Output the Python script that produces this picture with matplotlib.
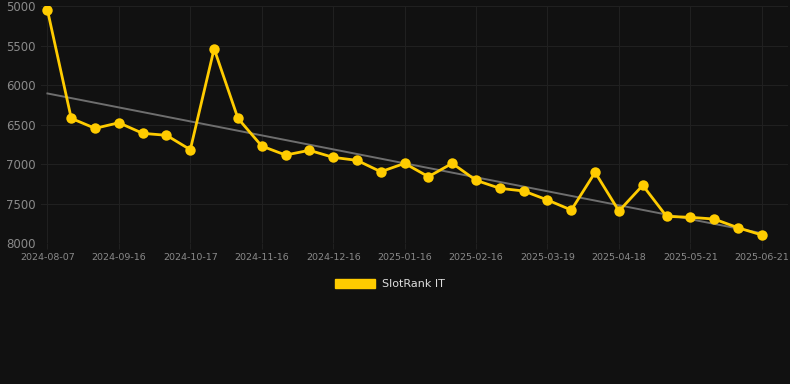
import numpy as np
import matplotlib.pyplot as plt
from matplotlib.patches import Patch

# weekly rank readings, one every 3rd point gets a date label
ranks = [5047, 6418, 6545, 6474, 6608, 6633, 6815, 5537, 6418, 6769,
         6883, 6823, 6912, 6950, 7094, 6988, 7157, 6988, 7203, 7304,
         7338, 7452, 7579, 7102, 7592, 7266, 7659, 7671, 7693, 7803,
         7895]
tick_labels = ["2024-08-07", "2024-09-16", "2024-10-17", "2024-11-16",
               "2024-12-16", "2025-01-16", "2025-02-16", "2025-03-19",
               "2025-04-18", "2025-05-21", "2025-06-21"]
series_name = "SlotRank IT"

bg = "#111111"
gold = "#ffcc00"

x = np.arange(len(ranks))
y = np.array(ranks)

fig = plt.figure(figsize=(7.9, 3.84), dpi=100, facecolor=bg)
ax = fig.add_axes([41 / 790, 1 - 243.3 / 384, 747 / 790, 237 / 384])
ax.set_facecolor(bg)

# linear trend over the series
k, b = np.polyfit(x, y, 1)
ax.plot(x, k * x + b, color="#6e6e6e", lw=1.4, zorder=2)

ax.plot(x, y, color=gold, lw=2.0, marker="o", markersize=7.5,
        markeredgewidth=0, zorder=3)

ax.set_xlim(-0.27, 31.1)
ax.set_ylim(8000, 5000)
ax.set_yticks([5000, 5500, 6000, 6500, 7000, 7500, 8000])
ax.set_xticks(x[::3])
ax.set_xticklabels(tick_labels)

ax.grid(True, color="#202020", lw=0.8)
ax.set_axisbelow(True)
for s in ax.spines.values():
    s.set_visible(False)
ax.tick_params(axis="y", length=0, pad=4, labelsize=8.5, labelcolor="#8a8a8a")
ax.tick_params(axis="x", length=4, color="#202020", pad=3, labelsize=6.8,
               labelcolor="#8a8a8a")

handle = Patch(facecolor=gold, edgecolor=gold)
fig.legend([handle], [series_name], loc="center", bbox_to_anchor=(390 / 790, 1 - 284 / 384),
           frameon=False, handlelength=3.6, handleheight=0.9, fontsize=8,
           labelcolor="#dddddd", handletextpad=0.6)

fig.savefig("out.png", dpi=100, facecolor=bg)
